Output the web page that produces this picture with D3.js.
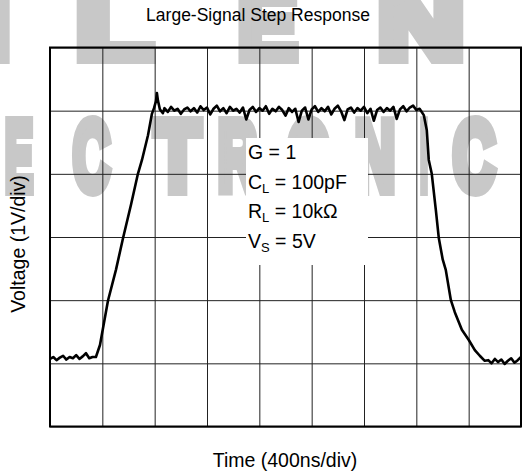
<!DOCTYPE html>
<html>
<head>
<meta charset="utf-8">
<script src="https://cdn.jsdelivr.net/npm/d3@7"></script>
<style>
  html, body { margin: 0; padding: 0; background: #fff; }
  svg { display: block; font-family: "Liberation Sans", Arial, sans-serif; }
</style>
</head>
<body>
<svg id="chart" width="522" height="475"></svg>
<script>
// Scope settings: 9 horizontal divisions of 400 ns, 6 vertical divisions of 1 V
const timeDivs = d3.range(0, 3601, 400);     // ns
const voltDivs = d3.range(-3, 3.01, 1);      // V

// Trace: low level before the step
const lowStartT = [0, 25, 50, 75, 100, 125, 150, 175, 200, 225, 250, 275, 300, 325];
const lowStartV = [-1.93, -1.90, -1.95, -1.91, -1.88, -1.94, -1.90, -1.92, -1.87, -1.93, -1.89, -1.84, -1.92, -1.90];

// Rising edge with overshoot
const riseT = [351, 382, 443, 504, 558, 619, 672, 703, 749, 779, 795, 810, 817, 825, 840, 863];
const riseV = [-1.90, -1.71, -1.01, -0.52, -0.02, 0.51, 1.00, 1.22, 1.61, 1.95, 2.04, 2.15, 2.28, 2.16, 2.02, 1.96];

// High plateau, sampled every 25 ns from 875 ns
const plateauStart = 875;
const plateauV = [
  2.04, 1.98, 2.06, 2.00, 2.03, 1.95, 2.02, 2.05, 1.99, 2.04,
  1.97, 2.07, 2.01, 2.05, 1.94, 2.03, 2.08, 1.99, 2.04, 1.96,
  2.06, 2.00, 2.03, 1.97, 2.05, 1.86, 2.01, 2.06, 1.98, 2.04,
  2.00, 2.07, 1.95, 2.03, 1.99, 2.06, 2.01, 1.92, 2.04, 1.98,
  2.03, 1.82, 2.00, 2.05, 1.86, 2.02, 2.07, 1.98, 2.04, 1.99,
  2.06, 1.94, 2.03, 2.08, 1.99, 1.85, 2.02, 2.05, 1.97, 2.04,
  2.00, 2.06, 1.96, 2.03, 1.84, 2.01, 2.05, 1.98, 2.04, 2.00,
  2.06, 1.87, 2.02, 2.07, 1.99, 2.05, 2.08, 2.01, 2.03
];

// Falling edge
const fallT = [2835, 2857, 2880, 2895, 2918, 2949, 2972, 3002, 3025, 3064, 3094, 3148, 3201, 3247, 3285, 3323];
const fallV = [2.00, 1.93, 1.69, 1.22, 1.00, 0.43, -0.02, -0.36, -0.52, -1.00, -1.19, -1.47, -1.63, -1.79, -1.88, -1.96];

// Low level after the step
const lowEndT = [3350, 3375, 3400, 3425, 3450, 3475, 3500, 3525, 3550, 3575, 3600];
const lowEndV = [-1.95, -2.00, -1.93, -1.98, -1.94, -2.01, -1.96, -1.92, -1.99, -1.95, -1.90];

// Test conditions shown in the box
const conditions = [
  { main: "G = 1", sub: "", rest: "" },
  { main: "C", sub: "L", rest: " = 100pF" },
  { main: "R", sub: "L", rest: " = 10k\u03A9" },
  { main: "V", sub: "S", rest: " = 5V" }
];

// Background watermark letters: [char, left, right]
const markTop = [["I", -8, 10], ["L", 76, 152], ["E", 238, 297], ["N", 378, 464]];
const markRow = [["E", 5, 33], ["C", 73, 110], ["T", 155, 200], ["R", 218, 257],
                 ["O", 287, 330], ["N", 355, 395], ["I", 420, 428], ["C", 453, 495]];

const svg = d3.select("#chart");
const plotL = 50, plotR = 521, plotT = 47.5, plotB = 426.5;

const x = d3.scaleLinear().domain([0, 3600]).range([plotL, plotR]);
const y = d3.scaleLinear().domain([-3, 3]).range([plotB, plotT]);

// watermark (heavy block letters in light grey)
const wm = svg.append("g").attr("fill", "#c8c8c8")
  .attr("stroke", "#c8c8c8").attr("stroke-width", 12).attr("stroke-linejoin", "miter")
  .style("font-family", "'Liberation Sans',Arial,sans-serif")
  .style("font-weight", "bold");
function drawMark(rows, baseline, size) {
  wm.selectAll(null).data(rows).enter().append("text")
    .attr("x", d => d[1]).attr("y", baseline)
    .attr("font-size", size)
    .attr("textLength", d => d[2] - d[1])
    .attr("lengthAdjust", "spacingAndGlyphs")
    .text(d => d[0]);
}
drawMark(markTop, 58, 98);
drawMark(markRow, 190, 98);

// grid
const grid = svg.append("g");
grid.append("g").attr("transform", `translate(0,${plotB})`)
  .call(d3.axisBottom(x).tickValues(timeDivs).tickSize(-(plotB - plotT)).tickFormat(""))
  .call(g => g.select(".domain").remove())
  .call(g => g.selectAll(".tick line").attr("stroke", "#222"));
grid.append("g").attr("transform", `translate(${plotL},0)`)
  .call(d3.axisLeft(y).tickValues(voltDivs).tickSize(-(plotR - plotL)).tickFormat(""))
  .call(g => g.select(".domain").remove())
  .call(g => g.selectAll(".tick line").attr("stroke", "#222"));

// condition box (clears the grid behind the text)
svg.append("rect").attr("x", 246).attr("y", 138).attr("width", 122).attr("height", 127).attr("fill", "#fff");
const cond = svg.append("g").attr("font-size", 19.5).attr("fill", "#000");
conditions.forEach((c, i) => {
  const t = cond.append("text").attr("x", 248).attr("y", 159 + i * 29.5);
  t.append("tspan").text(c.main);
  if (c.sub) {
    t.append("tspan").attr("font-size", 13).attr("dy", 4).text(c.sub);
    t.append("tspan").attr("dy", -4).text(c.rest);
  }
});

// trace
const pts = [];
lowStartT.forEach((t, i) => pts.push([t, lowStartV[i]]));
riseT.forEach((t, i) => pts.push([t, riseV[i]]));
plateauV.forEach((v, i) => pts.push([plateauStart + 25 * i, v]));
fallT.forEach((t, i) => pts.push([t, fallV[i]]));
lowEndT.forEach((t, i) => pts.push([t, lowEndV[i]]));

svg.append("path").datum(pts)
  .attr("fill", "none").attr("stroke", "#000").attr("stroke-width", 2.6)
  .attr("stroke-linejoin", "round")
  .attr("d", d3.line().x(d => x(d[0])).y(d => y(d[1])));

// frame
svg.append("rect").attr("x", plotL).attr("y", plotT).attr("width", plotR - plotL).attr("height", plotB - plotT)
  .attr("fill", "none").attr("stroke", "#000").attr("stroke-width", 2);

// titles
svg.append("text").attr("x", 258).attr("y", 21).attr("text-anchor", "middle").attr("font-size", 17.5).text("Large-Signal Step Response");
svg.append("text").attr("x", 285).attr("y", 467).attr("text-anchor", "middle").attr("font-size", 19.5).text("Time (400ns/div)");
svg.append("text").attr("transform", "translate(25,244) rotate(-90)").attr("text-anchor", "middle").attr("font-size", 19.5).text("Voltage (1V/div)");
</script>
</body>
</html>
